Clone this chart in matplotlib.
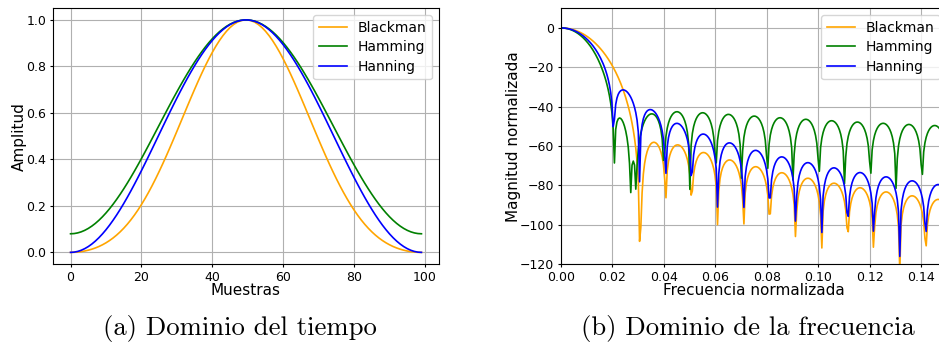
import numpy as np
import matplotlib
matplotlib.use("Agg")
import matplotlib.pyplot as plt

# Window samples (N = 100). The windows are symmetric, so only the
# first half is listed and mirrored below.
blackman_half = [0.000000, 0.000363, 0.001458, 0.003305, 0.005934, 0.009386, 0.013715, 0.018981, 0.025253, 0.032606,
                 0.041119, 0.050870, 0.061940, 0.074405, 0.088339, 0.103806, 0.120862, 0.139551, 0.159904, 0.181936,
                 0.205646, 0.231014, 0.258001, 0.286547, 0.316571, 0.347973, 0.380630, 0.414398, 0.449115, 0.484598,
                 0.520650, 0.557055, 0.593585, 0.630000, 0.666052, 0.701487, 0.736045, 0.769468, 0.801499, 0.831887,
                 0.860389, 0.886773, 0.910822, 0.932335, 0.951130, 0.967047, 0.979949, 0.989725, 0.996290, 0.999587]
hamming_half = [0.080000, 0.080926, 0.083701, 0.088313, 0.094744, 0.102967, 0.112951, 0.124654, 0.138029, 0.153023,
                0.169576, 0.187620, 0.207082, 0.227885, 0.249946, 0.273174, 0.297476, 0.322755, 0.348909, 0.375832,
                0.403417, 0.431551, 0.460122, 0.489015, 0.518112, 0.547298, 0.576455, 0.605464, 0.634211, 0.662578,
                0.690451, 0.717719, 0.744270, 0.770000, 0.794803, 0.818581, 0.841236, 0.862678, 0.882821, 0.901585,
                0.918891, 0.934673, 0.948865, 0.961410, 0.972258, 0.981366, 0.988698, 0.994221, 0.997917, 0.999768]
hanning_half = [0.000000, 0.001007, 0.004023, 0.009036, 0.016026, 0.024964, 0.035816, 0.048537, 0.063075, 0.079373,
                0.097365, 0.116978, 0.138133, 0.160745, 0.184724, 0.209972, 0.236387, 0.263864, 0.292292, 0.321557,
                0.351540, 0.382121, 0.413176, 0.444581, 0.476209, 0.507933, 0.539625, 0.571157, 0.602403, 0.633237,
                0.663534, 0.693173, 0.722033, 0.750000, 0.776960, 0.802805, 0.827430, 0.850737, 0.872632, 0.893027,
                0.911838, 0.928992, 0.944418, 0.958054, 0.969846, 0.979746, 0.987715, 0.993719, 0.997736, 0.999748]

blackman = blackman_half + blackman_half[::-1]
hamming = hamming_half + hamming_half[::-1]
hanning = hanning_half + hanning_half[::-1]

names = ["Blackman", "Hamming", "Hanning"]
windows = [blackman, hamming, hanning]
colors = ["orange", "green", "blue"]
nfft = 2048

plt.rcParams["font.size"] = 9
plt.rcParams["xtick.major.size"] = 2.2
plt.rcParams["ytick.major.size"] = 2.2
plt.rcParams["xtick.major.pad"] = 2.8
plt.rcParams["ytick.major.pad"] = 2.6

fig = plt.figure(figsize=(9.39, 3.47), dpi=100)
ax1 = fig.add_axes([53 / 939, 83 / 347, 386 / 939, 255.7 / 347])
# right panel runs past the page edge, as in the original
ax2 = fig.add_axes([561 / 939, 83 / 347, 386 / 939, 255.7 / 347])

freq = np.linspace(-0.5, 0.5, nfft)
for name, w, c in zip(names, windows, colors):
    ax1.plot(w, color=c, lw=1.2, label=name)
    A = np.abs(np.fft.fftshift(np.fft.fft(w, nfft)))
    with np.errstate(divide="ignore"):
        resp = 20 * np.log10(A / A.max())
    ax2.plot(freq, resp, color=c, lw=1.2, label=name)

ax1.set_xlabel("Muestras", fontsize=11, labelpad=-0.5)
ax1.set_ylabel("Amplitud", fontsize=11, labelpad=-0.5)
ax1.grid(True)
ax1.legend(loc="upper right", fontsize=10, labelspacing=0.4)

ax2.set_xlim(0, 0.15)
ax2.set_ylim(-120, 10)
ax2.set_xlabel("Frecuencia normalizada", fontsize=11, labelpad=-0.5)
ax2.set_ylabel("Magnitud normalizada", fontsize=11, labelpad=-0.5)
ax2.grid(True)
ax2.legend(loc="upper right", fontsize=10, labelspacing=0.4)

fig.text(240 / 939, 1 - 328 / 347, "(a) Dominio del tiempo", family="cmr10", fontsize=19.2,
         ha="center", va="center")
fig.text(748 / 939, 1 - 328 / 347, "(b) Dominio de la frecuencia", family="cmr10", fontsize=19.2,
         ha="center", va="center")

fig.savefig("out.png")
